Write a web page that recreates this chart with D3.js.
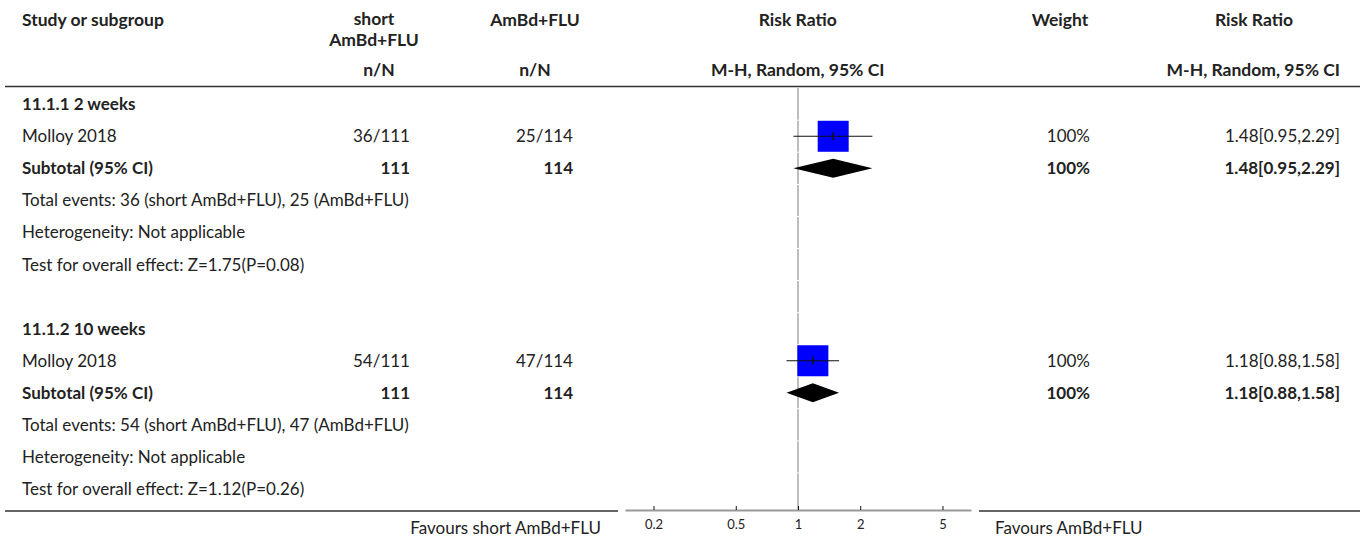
<!DOCTYPE html>
<html><head><meta charset="utf-8">
<script src="https://cdn.jsdelivr.net/npm/d3@7"></script>
<style>
html,body{margin:0;padding:0;background:#fff;}
svg{display:block;font-family:"Lato","Noto Sans",sans-serif;}
</style></head>
<body>
<svg id="c" width="1370" height="539"></svg>
<script>
// ---- data ----
const headerTop = ["Study or subgroup", "short", "AmBd+FLU", "Risk Ratio", "Weight", "Risk Ratio"];
const headerSub = ["n/N", "n/N", "M-H, Random, 95% CI", "M-H, Random, 95% CI"];
const groups = ["11.1.1 2 weeks", "11.1.2 10 weeks"];
const studies = ["Molloy 2018", "Molloy 2018"];
const expEvents = [36, 54];
const expTotal = [111, 111];
const ctlEvents = [25, 47];
const ctlTotal = [114, 114];
const rr = [1.48, 1.18];
const rrLow = [0.95, 0.88];
const rrHigh = [2.29, 1.58];
const weights = ["100%", "100%"];
const subRR = [1.48, 1.18];
const subLow = [0.95, 0.88];
const subHigh = [2.29, 1.58];
const zValues = ["1.75", "1.12"];
const pValues = ["0.08", "0.26"];
const tickValues = [0.2, 0.5, 1, 2, 5];
const favourLeft = "Favours short AmBd+FLU";
const favourRight = "Favours AmBd+FLU";

// ---- layout ----
const svg = d3.select("#c");
const FS = 17, HFS = 17.5;
const row0 = 104.2, rowH = 32.07;
const rowY = i => row0 + rowH * i;
const col = {study: 22, exp: 410, ctl: 573, rr: 797.7, wt: 1090, ci: 1340};
const x = d3.scaleLog().domain([1/6.87, 6.87]).range([625, 971]);
const txtColor = "#222";

function text(xp, yp, s, opt = {}) {
  svg.append("text").attr("x", xp).attr("y", yp)
    .attr("dy", "0.35em")
    .attr("text-anchor", opt.anchor || "start")
    .attr("font-size", opt.size || FS)
    .attr("font-weight", opt.bold ? "bold" : "normal")
    .attr("fill", opt.color || txtColor)
    .text(s);
}

// header
const H = {bold: true, size: HFS};
text(col.study, 20, headerTop[0], H);
text(374, 19, headerTop[1], {...H, anchor: "middle"});
text(374, 40, headerTop[2], {...H, anchor: "middle"});
text(535, 20, headerTop[2], {...H, anchor: "middle"});
text(col.rr, 20, headerTop[3], {...H, anchor: "middle"});
text(1060, 20, headerTop[4], {...H, anchor: "middle"});
text(1254, 20, headerTop[5], {...H, anchor: "middle"});
text(379, 70, headerSub[0], {...H, anchor: "middle"});
text(535, 70, headerSub[1], {...H, anchor: "middle"});
text(col.rr, 70, headerSub[2], {...H, anchor: "middle"});
text(1340, 70, headerSub[3], {...H, anchor: "end"});

// header rule
svg.append("line").attr("x1", 5).attr("x2", 1360).attr("y1", 86.5).attr("y2", 86.5)
  .attr("stroke", "#333").attr("stroke-width", 1.6);

// vertical line of no effect, segmented per row
for (let i = 0; i < 13; i++) {
  const top = rowY(i) - rowH / 2 + 0.5, bot = rowY(i) + rowH / 2 - 0.5;
  svg.append("line").attr("x1", x(1)).attr("x2", x(1))
    .attr("y1", i === 0 ? 88 : top).attr("y2", i === 12 ? 510 : bot)
    .attr("stroke", "#a8a8a8").attr("stroke-width", 1.5);
}

groups.forEach((g, k) => {
  const base = k * 7;
  text(col.study, rowY(base), g, {bold: true});
  // study row
  const ys = rowY(base + 1);
  text(col.study, ys, studies[k]);
  text(col.exp, ys, expEvents[k] + "/" + expTotal[k], {anchor: "end"});
  text(col.ctl, ys, ctlEvents[k] + "/" + ctlTotal[k], {anchor: "end"});
  text(col.wt, ys, weights[k], {anchor: "end"});
  text(col.ci, ys, rr[k].toFixed(2) + "[" + rrLow[k].toFixed(2) + "," + rrHigh[k].toFixed(2) + "]", {anchor: "end"});
  const sq = 31;
  svg.append("rect").attr("x", x(rr[k]) - sq / 2).attr("y", ys - sq / 2)
    .attr("width", sq).attr("height", sq).attr("fill", "#0000ff");
  svg.append("line").attr("x1", x(rrLow[k])).attr("x2", x(rrHigh[k]))
    .attr("y1", ys).attr("y2", ys).attr("stroke", "#111").attr("stroke-width", 1.2);
  svg.append("line").attr("x1", x(rr[k])).attr("x2", x(rr[k]))
    .attr("y1", ys - 4).attr("y2", ys + 4).attr("stroke", "#111").attr("stroke-width", 1.5);
  // subtotal row
  const yt = rowY(base + 2);
  text(col.study, yt, "Subtotal (95% CI)", {bold: true});
  text(col.exp, yt, String(expTotal[k]), {bold: true, anchor: "end"});
  text(col.ctl, yt, String(ctlTotal[k]), {bold: true, anchor: "end"});
  text(col.wt, yt, weights[k], {bold: true, anchor: "end"});
  text(col.ci, yt, subRR[k].toFixed(2) + "[" + subLow[k].toFixed(2) + "," + subHigh[k].toFixed(2) + "]", {bold: true, anchor: "end"});
  const dh = 9.5;
  svg.append("path").attr("d", d3.line()([
    [x(subLow[k]), yt], [x(subRR[k]), yt - dh], [x(subHigh[k]), yt], [x(subRR[k]), yt + dh]
  ]) + "Z").attr("fill", "#000");
  text(col.study, rowY(base + 3), "Total events: " + expEvents[k] + " (short AmBd+FLU), " + ctlEvents[k] + " (AmBd+FLU)");
  text(col.study, rowY(base + 4), "Heterogeneity: Not applicable");
  text(col.study, rowY(base + 5), "Test for overall effect: Z=" + zValues[k] + "(P=" + pValues[k] + ")");
});

// bottom rule
svg.append("line").attr("x1", 5).attr("x2", 618).attr("y1", 511).attr("y2", 511)
  .attr("stroke", "#333").attr("stroke-width", 1.6);
svg.append("line").attr("x1", 979).attr("x2", 1360).attr("y1", 511).attr("y2", 511)
  .attr("stroke", "#333").attr("stroke-width", 1.6);

// axis
const axis = d3.axisBottom(x).tickValues(tickValues).tickFormat(d3.format("")).tickSizeInner(-4).tickSizeOuter(0).tickPadding(10);
const ag = svg.append("g").attr("transform", "translate(0,510)").call(axis);
ag.select(".domain").attr("stroke", "#999").attr("stroke-width", 2);
ag.selectAll(".tick line").attr("stroke", "#111");
ag.selectAll(".tick text").attr("font-size", 13).attr("fill", "#222")
  .attr("font-family", "'Lato','Noto Sans',sans-serif");

text(601, 528, favourLeft, {anchor: "end"});
text(995, 528, favourRight);
</script>
</body></html>
